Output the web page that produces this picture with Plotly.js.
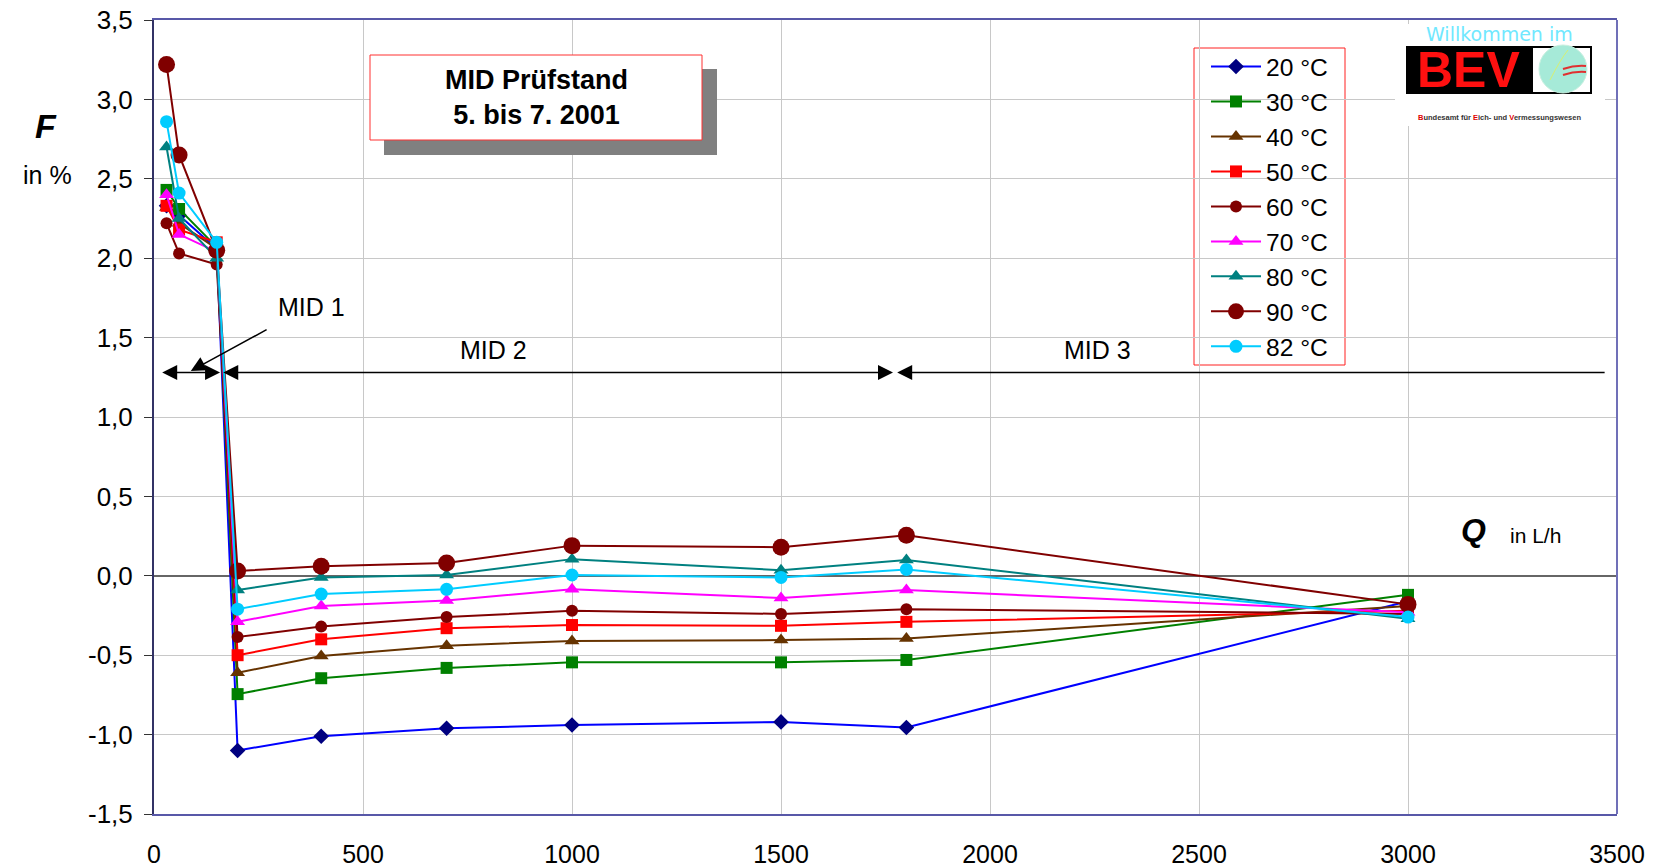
<!DOCTYPE html>
<html>
<head>
<meta charset="utf-8">
<script src="https://cdn.plot.ly/plotly-3.0.1.min.js"></script>
<style>html,body{margin:0;padding:0;background:#fff;}#chart{width:1661px;height:867px;}</style>
</head>
<body>
<div id="chart"></div>
<script>
// ---- data ----
const flowQ = [30, 60, 150, 200, 400, 700, 1000, 1500, 1800, 3000];
const seriesNames = ['20 °C', '30 °C', '40 °C', '50 °C', '60 °C', '70 °C', '80 °C', '90 °C', '82 °C'];
const f20 = [2.33, 2.27, 2.06, -1.10, -1.01, -0.96, -0.94, -0.92, -0.955, -0.16];
const f30 = [2.43, 2.31, 2.07, -0.745, -0.645, -0.58, -0.545, -0.545, -0.53, -0.12];
const f40 = [2.32, 2.22, 2.06, -0.61, -0.505, -0.44, -0.41, -0.405, -0.395, -0.19];
const f50 = [2.33, 2.18, 2.10, -0.50, -0.40, -0.33, -0.31, -0.315, -0.29, -0.22];
const f60 = [2.22, 2.03, 1.96, -0.385, -0.32, -0.26, -0.22, -0.24, -0.21, -0.24];
const f70 = [2.40, 2.15, 2.04, -0.29, -0.19, -0.155, -0.085, -0.14, -0.09, -0.23];
const f80 = [2.70, 2.25, 2.00, -0.09, -0.01, 0.005, 0.105, 0.035, 0.10, -0.27];
const f90 = [3.22, 2.65, 2.05, 0.03, 0.06, 0.08, 0.19, 0.18, 0.255, -0.18];
const f82 = [2.86, 2.41, 2.10, -0.21, -0.115, -0.085, 0.005, -0.01, 0.04, -0.26];
const xTickVals = [0, 500, 1000, 1500, 2000, 2500, 3000, 3500];
const xTickText = ['0', '500', '1000', '1500', '2000', '2500', '3000', '3500'];
const yTickVals = [-1.5, -1.0, -0.5, 0.0, 0.5, 1.0, 1.5, 2.0, 2.5, 3.0, 3.5];
const yTickText = ['-1,5', '-1,0', '-0,5', '0,0', '0,5', '1,0', '1,5', '2,0', '2,5', '3,0', '3,5'];
const zoneLabels = ['MID 1', 'MID 2', 'MID 3'];
const boxTitle = ['MID Prüfstand', '5. bis 7. 2001'];

// ---- styles ----
const FONT = 'Arial, "Liberation Sans", sans-serif';
const styles = [
  {line: '#0000FF', marker: '#000080', symbol: 'diamond', size: 12},
  {line: '#008000', marker: '#008000', symbol: 'square', size: 12},
  {line: '#663300', marker: '#663300', symbol: 'triangle-up', size: 13},
  {line: '#FF0000', marker: '#FF0000', symbol: 'square', size: 12},
  {line: '#800000', marker: '#800000', symbol: 'circle', size: 12},
  {line: '#FF00FF', marker: '#FF00FF', symbol: 'triangle-up', size: 13},
  {line: '#008080', marker: '#008080', symbol: 'triangle-up', size: 13},
  {line: '#800000', marker: '#800000', symbol: 'circle', size: 17},
  {line: '#00CCFF', marker: '#00CCFF', symbol: 'circle', size: 13}
];
const ys = [f20, f30, f40, f50, f60, f70, f80, f90, f82];
const traces = ys.map((y, i) => ({
  type: 'scatter', mode: 'lines+markers', name: seriesNames[i],
  x: flowQ, y: y,
  line: {color: styles[i].line, width: 2},
  marker: {color: styles[i].marker, symbol: styles[i].symbol, size: styles[i].size, line: {width: 0}}
}));

// pixel -> paper helpers (plot area: left 154, top 20, 1463 x 794)
const L = 154, T = 20, W = 1463, H = 794;
const px = x => (x - L) / W;
const py = y => (T + H - y) / H;

const shapes = [
  // title box shadow and box
  {type: 'rect', xref: 'paper', yref: 'paper', x0: px(384), x1: px(717), y0: py(155), y1: py(69), fillcolor: '#808080', line: {width: 0}, layer: 'above'},
  {type: 'rect', xref: 'paper', yref: 'paper', x0: px(370), x1: px(702), y0: py(140), y1: py(55), fillcolor: '#FFFFFF', line: {color: '#FF3030', width: 1}, layer: 'above'},
  // legend frame
  {type: 'rect', xref: 'paper', yref: 'paper', x0: px(1194), x1: px(1345), y0: py(365), y1: py(48), fillcolor: '#FFFFFF', line: {color: '#FF2020', width: 1}, layer: 'between'},
  // right border
  {type: 'line', xref: 'paper', yref: 'paper', x0: 1, x1: 1, y0: 0, y1: 1, line: {color: '#7070B8', width: 2}, layer: 'above'},
  // logo
  {type: 'rect', xref: 'paper', yref: 'paper', x0: px(1395), x1: px(1605), y0: py(126), y1: py(24), fillcolor: '#FFFFFF', line: {width: 0}, layer: 'above'},
  {type: 'rect', xref: 'paper', yref: 'paper', x0: px(1406), x1: px(1592), y0: py(94), y1: py(46), fillcolor: '#000000', line: {width: 0}, layer: 'above'},
  {type: 'rect', xref: 'paper', yref: 'paper', x0: px(1533), x1: px(1590), y0: py(92), y1: py(48), fillcolor: '#FFFFFF', line: {width: 0}, layer: 'above'},
  {type: 'circle', xref: 'paper', yref: 'paper', x0: px(1539), x1: px(1587), y0: py(93), y1: py(45), fillcolor: '#A6EAD8', line: {color: '#C8F0E0', width: 1}, layer: 'above'},
  {type: 'path', xref: 'paper', yref: 'paper', path: `M ${px(1550)} ${py(80)} Q ${px(1560)} ${py(60)} ${px(1568)} ${py(50)}`, line: {color: '#D8F070', width: 1}, layer: 'above'},
  {type: 'path', xref: 'paper', yref: 'paper', path: `M ${px(1563)} ${py(69)} Q ${px(1575)} ${py(65)} ${px(1586)} ${py(66)}`, line: {color: '#E03030', width: 2}, layer: 'above'},
  {type: 'path', xref: 'paper', yref: 'paper', path: `M ${px(1563)} ${py(75)} Q ${px(1575)} ${py(71)} ${px(1586)} ${py(72)}`, line: {color: '#E03030', width: 2}, layer: 'above'}
];

const arrowBase = {xref: 'x', yref: 'y', axref: 'x', ayref: 'y', text: '', showarrow: true,
  arrowcolor: '#000000', arrowwidth: 1.5, arrowsize: 2, arrowhead: 2, startarrowhead: 2, standoff: 0, startstandoff: 0};

const lbl = (x, y, text, font) => ({xref: 'paper', yref: 'paper', x: px(x), y: py(y), xanchor: 'center', yanchor: 'middle',
  text: text, showarrow: false, font: font});

const annotations = [
  // zone arrows
  Object.assign({}, arrowBase, {x: 158, y: 1.28, ax: 16, ay: 1.28, arrowside: 'end+start'}),
  Object.assign({}, arrowBase, {x: 1768, y: 1.28, ax: 162, ay: 1.28, arrowside: 'end+start'}),
  Object.assign({}, arrowBase, {x: 1778, y: 1.28, ax: 3474, ay: 1.28, arrowside: 'end'}),
  Object.assign({}, arrowBase, {x: 88, y: 1.29, ax: 273, ay: 1.555, arrowside: 'end'}),
  // zone labels
  lbl(311.7, 307.5, zoneLabels[0], {family: FONT, size: 25, color: '#000'}),
  lbl(493.6, 349.6, zoneLabels[1], {family: FONT, size: 25, color: '#000'}),
  lbl(1097.4, 349.6, zoneLabels[2], {family: FONT, size: 25, color: '#000'}),
  // title box text
  lbl(536, 97.5, '<b>' + boxTitle[0] + '</b><br><b>' + boxTitle[1] + '</b>', {family: FONT, size: 27, color: '#000'}),
  // axis titles
  lbl(45.5, 126, '<b><i>F</i></b>', {family: FONT, size: 34, color: '#000'}),
  lbl(47.7, 175, 'in %', {family: FONT, size: 25, color: '#000'}),
  lbl(1473.5, 530, '<b><i>Q</i></b>', {family: FONT, size: 32, color: '#000'}),
  lbl(1535, 535, 'in L/h', {family: FONT, size: 21, color: '#000'}),
  // logo text
  {xref: 'paper', yref: 'paper', x: px(1499), y: py(46), xanchor: 'center', yanchor: 'bottom', borderpad: 0,
    text: 'Willkommen im', showarrow: false, font: {family: '"DejaVu Sans", sans-serif', size: 19, color: '#70E8FF'}},
  lbl(1468, 70, '<b>BEV</b>', {family: FONT, size: 50, color: '#FF1010'}),
  lbl(1499, 117, '<b><span style="color:#E00000">B</span>undesamt für <span style="color:#E00000">E</span>ich- und <span style="color:#E00000">V</span>ermessungswesen</b>', {family: FONT, size: 7.5, color: '#333'})
];

const layout = {
  width: 1661, height: 867,
  margin: {l: L, r: 1661 - L - W, t: T, b: 867 - T - H},
  paper_bgcolor: '#FFFFFF', plot_bgcolor: '#FFFFFF',
  font: {family: FONT, size: 24, color: '#000'},
  showlegend: true,
  legend: {x: px(1206), y: py(44), xanchor: 'left', yanchor: 'top', bgcolor: 'rgba(0,0,0,0)',
    borderwidth: 0, itemwidth: 50, font: {family: FONT, size: 24.6, color: '#000'}},
  xaxis: {range: [0, 3500], tickvals: xTickVals, ticktext: xTickText, showgrid: true, gridcolor: '#C8C8C8', gridwidth: 1,
    zeroline: false, showline: true, linecolor: '#5858A8', linewidth: 2, mirror: true, ticks: '', ticklabelstandoff: 17,
    tickfont: {family: FONT, size: 25, color: '#000'}, fixedrange: true},
  xaxis2: {range: [0, 3500], overlaying: 'x', anchor: 'free', position: 0.3, tickvals: xTickVals, showticklabels: false,
    ticks: 'outside', ticklen: 8, tickwidth: 1.5, tickcolor: '#333', showgrid: false, zeroline: false, showline: false},
  yaxis: {range: [-1.5, 3.5], tickvals: yTickVals, ticktext: yTickText, showgrid: true, gridcolor: '#C8C8C8', gridwidth: 1,
    zeroline: true, zerolinecolor: '#666666', zerolinewidth: 2, showline: true, linecolor: '#333366', linewidth: 2,
    ticks: 'outside', ticklen: 8, tickcolor: '#333', ticklabelstandoff: 6,
    tickfont: {family: FONT, size: 26, color: '#000'}, fixedrange: true},
  shapes: shapes,
  annotations: annotations
};

Plotly.newPlot('chart', traces, layout, {staticPlot: true, displayModeBar: false});
</script>
</body>
</html>
